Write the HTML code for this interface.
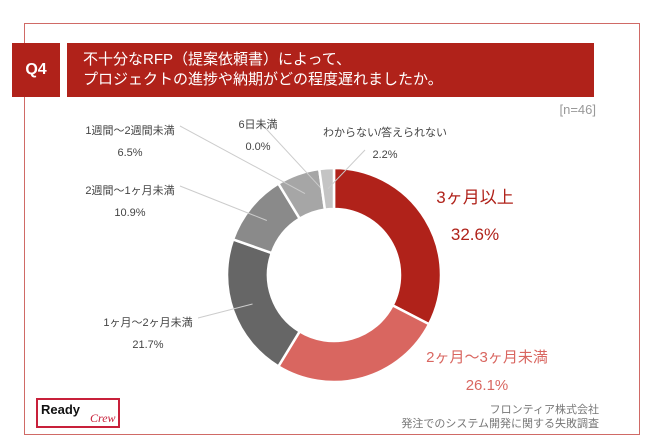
<!DOCTYPE html>
<html><head><meta charset="utf-8"><style>
body{margin:0;width:650px;height:445px;background:#fff;font-family:"Liberation Sans","Noto Sans CJK JP",sans-serif;overflow:hidden;position:relative}
.abs{position:absolute}
</style></head><body>
<div class="abs" style="left:24px;top:23px;width:614px;height:410px;border:1px solid #d06a66"></div>
<div class="abs" style="left:12px;top:43px;width:48px;height:54px;background:#b0221a;color:#fff;font-weight:bold;font-size:16px;line-height:54px;text-align:center">Q4</div>
<div class="abs" style="left:67px;top:43px;width:527px;height:54px;background:#b0221a;color:#fff;font-size:15px;line-height:20px;box-sizing:border-box;padding:7px 0 0 16px">不十分なRFP（提案依頼書）によって、<br>プロジェクトの進捗や納期がどの程度遅れましたか。</div>
<div class="abs" style="left:540px;top:102px;width:56px;text-align:right;color:#999;font-size:13px">[n=46]</div>
<svg class="abs" style="left:0;top:0" width="650" height="445" id="chart"></svg>
<div class="abs" style="left:36px;top:398px;width:84px;height:30px;border:2px solid #c8203a;box-sizing:border-box">
<span style="position:absolute;left:3px;top:2px;font-weight:bold;font-size:13px;color:#111">Ready</span>
<span style="position:absolute;left:52px;top:11px;font-style:italic;font-size:12px;color:#c8203a;font-family:'Liberation Serif',serif">Crew</span></div>
<div class="abs" style="left:300px;width:299px;top:403px;text-align:right;color:#777;font-size:11px;line-height:14px">フロンティア株式会社<br>発注でのシステム開発に関する失敗調査</div>
<script>
const categories=["3ヶ月以上","2ヶ月〜3ヶ月未満","1ヶ月〜2ヶ月未満","2週間〜1ヶ月未満","1週間〜2週間未満","6日未満","わからない/答えられない"];
const values=[32.6,26.1,21.7,10.9,6.5,0.0,2.2];
const colors=["#b0221a","#d96660","#666666","#8a8a8a","#a6a6a6","#bbbbbb","#c4c4c4"];
const labelPos=[[475,203],[487,362],[148,334],[130,202],[130,142],[258,136],[385,144]];
const labelGap=[37,28,22,22,22,22,22];
const labelSize=[17,15,11,11,11,11,11];
const big=[true,true,false,false,false,false,false];
const svg=document.getElementById('chart');
const cx=334,cy=275,R=107,r=66,NS='http://www.w3.org/2000/svg';
const total=values.reduce((a,b)=>a+b,0);
function pt(a,rad){return [cx+rad*Math.sin(a),cy-rad*Math.cos(a)];}
let a0=0;
values.forEach((v,i)=>{
 const a1=a0+v/total*2*Math.PI;
 if(v>0){
 const [x1,y1]=pt(a0,R),[x2,y2]=pt(a1,R),[x3,y3]=pt(a1,r),[x4,y4]=pt(a0,r);
 const lg=(a1-a0)>Math.PI?1:0;
 const p=document.createElementNS(NS,'path');
 p.setAttribute('d',`M${x1},${y1}A${R},${R} 0 ${lg} 1 ${x2},${y2}L${x3},${y3}A${r},${r} 0 ${lg} 0 ${x4},${y4}Z`);
 p.setAttribute('fill',colors[i]);p.setAttribute('stroke','#fff');p.setAttribute('stroke-width','2.5');
 
 
 svg.appendChild(p);}
 const mid=(a0+a1)/2;
 const [lx,ly]=labelPos[i];
 if(!big[i]){
  const [mx,my]=pt(mid,(R+r)/2);
  const l=document.createElementNS(NS,'line');
  l.setAttribute('x1',mx);l.setAttribute('y1',my);
  l.setAttribute('x2',i==6?lx-20:lx+(i>=5?0:50));l.setAttribute('y2',ly+(i==6?6:-16));
  l.setAttribute('stroke','#ccc');l.setAttribute('stroke-width','1');
  
  
  svg.appendChild(l);
 }
 [categories[i],values[i].toFixed(1)+'%'].forEach((t,k)=>{
  const tx=document.createElementNS(NS,'text');
  tx.setAttribute('x',lx);tx.setAttribute('y',ly+k*labelGap[i]-(big[i]?0:8));
  tx.setAttribute('text-anchor','middle');
  tx.setAttribute('font-size',labelSize[i]);
  tx.setAttribute('fill',big[i]?colors[i]:'#444');
  tx.textContent=t;
  
  
  svg.appendChild(tx);
 });
 a0=a1;
});
</script>
</body></html>
